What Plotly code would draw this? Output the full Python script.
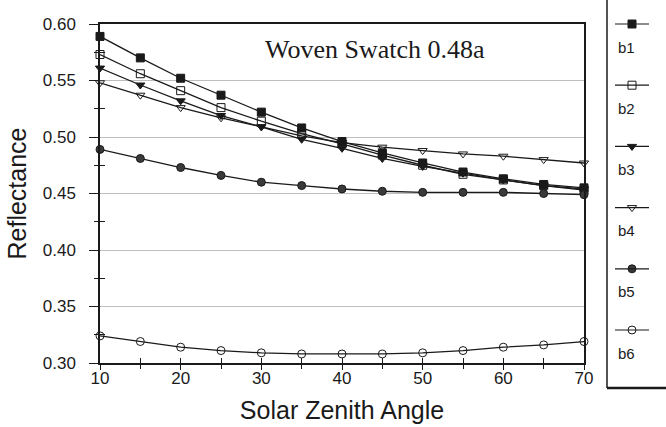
import plotly.graph_objects as go

# Solar zenith angles (degrees)
angles = [10, 15, 20, 25, 30, 35, 40, 45, 50, 55, 60, 65, 70]

# Band reflectances for the woven swatch
b1 = [0.589, 0.570, 0.552, 0.537, 0.522, 0.508, 0.496, 0.486, 0.477, 0.469, 0.463, 0.458, 0.455]
b2 = [0.573, 0.556, 0.541, 0.526, 0.514, 0.503, 0.494, 0.484, 0.475, 0.467, 0.462, 0.457, 0.453]
b3 = [0.561, 0.546, 0.532, 0.519, 0.509, 0.498, 0.490, 0.481, 0.474, 0.468, 0.462, 0.457, 0.454]
b4 = [0.548, 0.537, 0.526, 0.517, 0.509, 0.501, 0.495, 0.491, 0.488, 0.485, 0.483, 0.480, 0.477]
b5 = [0.489, 0.481, 0.473, 0.466, 0.460, 0.457, 0.454, 0.452, 0.451, 0.451, 0.451, 0.450, 0.449]
b6 = [0.324, 0.319, 0.314, 0.311, 0.309, 0.308, 0.308, 0.308, 0.309, 0.311, 0.314, 0.316, 0.319]

band_names = ["b1", "b2", "b3", "b4", "b5", "b6"]
band_values = [b1, b2, b3, b4, b5, b6]

INK = "#1a1a1a"
styles = [
    dict(symbol="square", color=INK, line=dict(color=INK, width=1)),
    dict(symbol="square-open", color=INK, line=dict(color=INK, width=1)),
    dict(symbol="triangle-down", color=INK, line=dict(color=INK, width=1)),
    dict(symbol="triangle-down-open", color=INK, line=dict(color=INK, width=1)),
    dict(symbol="circle", color="#3a3a3a", line=dict(color=INK, width=1)),
    dict(symbol="circle-open", color=INK, line=dict(color=INK, width=1)),
]

# Figure geometry (pixels)
W, H = 666, 427
ML, MB = 100, 39
PW, PH = W - ML, H - MB          # paper size with r = t = 0


def px_x(p):
    return (p - ML) / PW


def px_y(p):
    return (PH - p) / PH


fig = go.Figure()

for name, vals, st in zip(band_names, band_values, styles):
    fig.add_trace(go.Scatter(
        x=angles, y=vals, name=name, mode="lines+markers",
        line=dict(color=INK, width=1.3),
        marker=dict(size=8, **st),
        showlegend=False, cliponaxis=False,
    ))

# Invisible trace carrying the overlay axes used for the crossing tick marks
fig.add_trace(go.Scatter(x=[angles[0]], y=[b6[0]], xaxis="x3", yaxis="y3",
                         mode="markers", marker=dict(opacity=0), hoverinfo="skip",
                         showlegend=False))

# Hand-built legend: symbol row with the label underneath
legend_left, legend_right, legend_bottom = 607, 666, 388
legend_top = 24
legend_step = 61.2
sym_x0, sym_xc, sym_x1 = 615, 632, 649
for i, (name, st) in enumerate(zip(band_names, styles)):
    ly = legend_top + i * legend_step
    fig.add_shape(type="line", xref="paper", yref="paper",
                  x0=px_x(sym_x0), x1=px_x(sym_x1), y0=px_y(ly), y1=px_y(ly),
                  line=dict(color=INK, width=1.2))
    fig.add_trace(go.Scatter(
        x=[sym_xc], y=[ly], xaxis="x2", yaxis="y2",
        mode="markers", marker=dict(size=8, **st),
        showlegend=False, hoverinfo="skip", cliponaxis=False,
    ))
    fig.add_annotation(x=px_x(616), y=px_y(ly + 23), xref="paper", yref="paper", text=name,
                       showarrow=False, xanchor="left", yanchor="middle",
                       font=dict(family="Liberation Sans, Arial", size=15, color=INK))

# Legend frame
fig.add_shape(type="line", xref="paper", yref="paper",
              x0=px_x(legend_left), x1=px_x(legend_left),
              y0=px_y(-5), y1=px_y(legend_bottom),
              line=dict(color=INK, width=1.5))
fig.add_shape(type="line", xref="paper", yref="paper",
              x0=px_x(legend_left), x1=px_x(legend_right + 10),
              y0=px_y(legend_bottom), y1=px_y(legend_bottom),
              line=dict(color=INK, width=2.5))

# Chart caption inside the plot
fig.add_annotation(x=0.568, y=0.577, xref="x domain", yref="y", text="Woven Swatch 0.48a",
                   showarrow=False, xanchor="center", yanchor="middle",
                   font=dict(family="Liberation Serif, Times New Roman", size=26, color=INK))

tick_font = dict(family="Liberation Sans, Arial", size=17, color=INK)
title_font = dict(family="Liberation Sans, Arial", size=25, color=INK)

x_dom = [0, 484 / PW]
y_dom = [px_y(363), px_y(24)]

fig.update_layout(
    width=W, height=H,
    margin=dict(l=ML, r=0, t=0, b=MB),
    paper_bgcolor="white", plot_bgcolor="white",
    xaxis=dict(
        domain=x_dom, range=[10, 70], tickvals=[10, 20, 30, 40, 50, 60, 70],
        ticks="outside", ticklen=5, tickwidth=1.2, tickcolor=INK,
        minor=dict(tickvals=[15, 25, 35, 45, 55, 65], ticks="outside", ticklen=4,
                   tickwidth=1.2, tickcolor=INK),
        showline=True, linecolor=INK, linewidth=1.5, mirror=True,
        showgrid=False, zeroline=False, tickfont=tick_font,
        ticklabelstandoff=-6,
        title=dict(text="Solar Zenith Angle", font=title_font, standoff=14),
        automargin=False,
    ),
    yaxis=dict(
        domain=y_dom, range=[0.30, 0.60], dtick=0.05, tickformat=".2f",
        ticks="outside", ticklen=9, tickwidth=1.2, tickcolor=INK,
        minor=dict(tickvals=[0.325, 0.375, 0.425, 0.475, 0.525, 0.575], ticks="outside",
                   ticklen=4, tickwidth=1.2, tickcolor=INK),
        showline=True, linecolor=INK, linewidth=1.5, mirror=True,
        showgrid=True, gridcolor="#bdbdbd", gridwidth=1, zeroline=False,
        tickfont=tick_font, ticklabelstandoff=10,
        title=dict(text="Reflectance", font=title_font, standoff=9),
        automargin=False,
    ),
    xaxis3=dict(
        domain=x_dom, range=[10, 70], overlaying="x", anchor="y3",
        tickvals=[10, 15, 20, 25, 30, 35, 40, 45, 50, 55, 60, 65, 70],
        ticks="inside", ticklen=5, tickwidth=1.2, tickcolor=INK,
        showticklabels=False, showline=False, showgrid=False, zeroline=False,
    ),
    yaxis3=dict(
        domain=y_dom, range=[0.30, 0.60], overlaying="y", anchor="x3",
        tickvals=[0.325, 0.375, 0.425, 0.475, 0.525, 0.575],
        ticks="inside", ticklen=5, tickwidth=1.2, tickcolor=INK,
        showticklabels=False, showline=False, showgrid=False, zeroline=False,
    ),
    xaxis2=dict(domain=[px_x(legend_left), 1], range=[legend_left, legend_right],
                autorange=False, visible=False, fixedrange=True, anchor="y2"),
    yaxis2=dict(domain=[0, 1], range=[PH, 0], autorange=False,
                visible=False, fixedrange=True, anchor="x2"),
    showlegend=False,
)

fig.write_html("out.html")
